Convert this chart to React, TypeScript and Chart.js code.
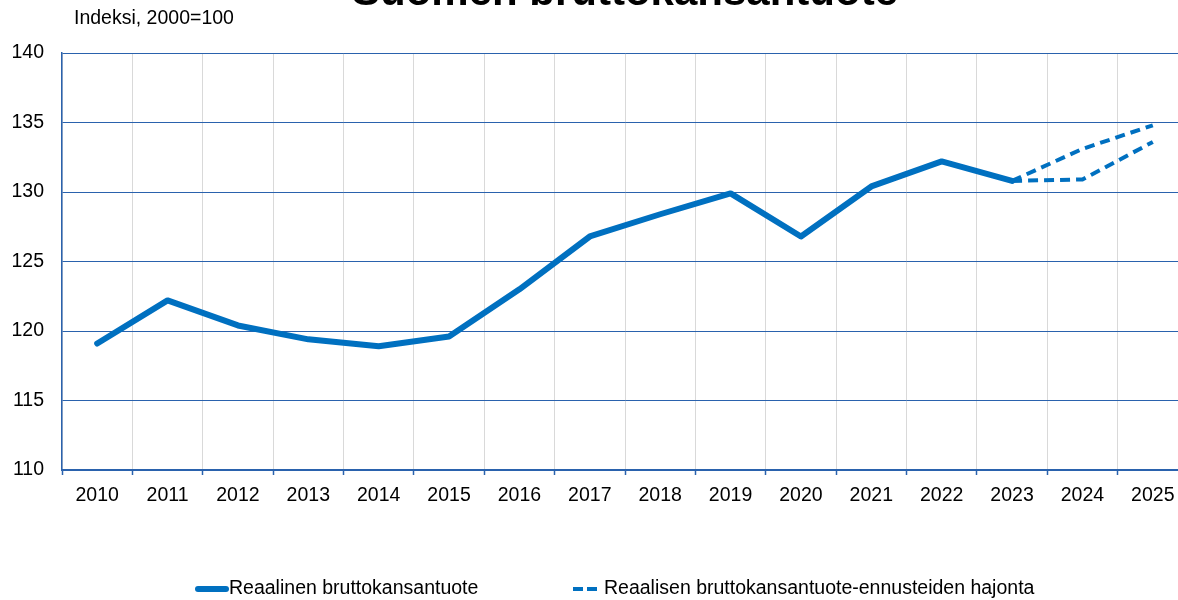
import React, { useEffect, useRef } from "react";
import { Chart, registerables } from "chart.js";

Chart.register(...registerables);

const years = ["2010", "2011", "2012", "2013", "2014", "2015", "2016", "2017", "2018", "2019", "2020", "2021", "2022", "2023", "2024", "2025"];
const realGdp = [119.1, 122.2, 120.4, 119.4, 118.9, 119.6, 123.0, 126.8, 128.4, 129.9, 126.8, 130.4, 132.2, 130.8, null, null];
const forecastHigh = [null, null, null, null, null, null, null, null, null, null, null, null, null, 130.8, 133.1, 134.8];
const forecastLow = [null, null, null, null, null, null, null, null, null, null, null, null, null, 130.8, 130.9, 133.6];
const yMin = 110;
const yMax = 140;
const yStep = 5;
const titleText = "Suomen bruttokansantuote";
const subtitleText = "Indeksi, 2000=100";
const legendLabels = ["Reaalinen bruttokansantuote", "Reaalisen bruttokansantuote-ennusteiden hajonta"];

const LINE = "#0070c0";
const GRID_BLUE = "#2a62ad";
const GRID_GRAY = "#d9d9d9";
const FONT = "'Liberation Sans', Arial, sans-serif";
const FS = 19.5;

const decorPlugin = {
  id: "decor",
  afterDraw(chart: any) {
    const ctx = chart.ctx;
    const area = chart.chartArea;
    ctx.save();
    // title (cut off at top)
    ctx.fillStyle = "#000";
    ctx.font = `bold 42px ${FONT}`;
    ctx.textAlign = "center";
    ctx.textBaseline = "alphabetic";
    ctx.fillText(titleText, (area.left + area.right) / 2, 5);
    // subtitle
    ctx.font = `${FS}px ${FONT}`;
    ctx.textAlign = "left";
    ctx.fillText(subtitleText, 74, 24);
    // legend
    const ly = 589;
    ctx.strokeStyle = LINE;
    ctx.lineWidth = 6;
    ctx.lineCap = "round";
    ctx.beginPath();
    ctx.moveTo(198, ly);
    ctx.lineTo(226, ly);
    ctx.stroke();
    ctx.lineCap = "butt";
    ctx.lineWidth = 4;
    ctx.setLineDash([10, 4]);
    ctx.beginPath();
    ctx.moveTo(573, ly);
    ctx.lineTo(597, ly);
    ctx.stroke();
    ctx.setLineDash([]);
    ctx.fillStyle = "#000";
    ctx.font = `${FS}px ${FONT}`;
    ctx.textBaseline = "middle";
    ctx.fillText(legendLabels[0], 229, ly);
    ctx.fillText(legendLabels[1], 604, ly);
    ctx.restore();
  },
};

export default function App() {
  const ref = useRef<HTMLCanvasElement | null>(null);

  useEffect(() => {
    if (!ref.current) return;
    const chart = new Chart(ref.current, {
      type: "line",
      data: {
        labels: years,
        datasets: [
          {
            label: legendLabels[0],
            data: realGdp,
            borderColor: LINE,
            borderWidth: 6,
            pointRadius: 0,
            borderJoinStyle: "round",
            borderCapStyle: "round",
            tension: 0,
            spanGaps: false,
          },
          {
            label: legendLabels[1],
            data: forecastHigh,
            borderColor: LINE,
            borderWidth: 4,
            borderDash: [10, 6],
            pointRadius: 0,
            tension: 0,
          },
          {
            label: legendLabels[1] + " (ala)",
            data: forecastLow,
            borderColor: LINE,
            borderWidth: 4,
            borderDash: [10, 6],
            pointRadius: 0,
            tension: 0,
          },
        ],
      },
      options: {
        responsive: false,
        animation: false,
        events: [],
        layout: { padding: { top: 53, left: 0, right: 12, bottom: 90 } },
        plugins: {
          legend: { display: false },
          title: { display: false },
          tooltip: { enabled: false },
        },
        scales: {
          x: {
            offset: true,
            grid: {
              offset: true,
              color: GRID_GRAY,
              lineWidth: 1,
              tickLength: 5,
              tickColor: GRID_BLUE,
              tickWidth: 1.5,
            },
            border: { color: GRID_BLUE, width: 1.5 },
            ticks: {
              color: "#000",
              font: { family: FONT, size: FS },
              padding: 9,
              maxRotation: 0,
              autoSkip: false,
            },
            afterFit: (scale: any) => {
              scale.height = 40;
            },
          },
          y: {
            min: yMin,
            max: yMax,
            grid: { color: GRID_BLUE, lineWidth: 1, drawTicks: false },
            border: { color: GRID_BLUE, width: 1.5 },
            ticks: {
              stepSize: yStep,
              color: "#000",
              font: { family: FONT, size: FS },
              padding: 18,
            },
            afterFit: (scale: any) => {
              scale.width = 62;
            },
          },
        },
      },
      plugins: [decorPlugin],
    });
    return () => chart.destroy();
  }, []);

  return (
    <div style={{ position: "fixed", left: 0, top: 0, width: 1178, height: 600, overflow: "hidden", background: "#fff" }}>
      <canvas ref={ref} width={1200} height={600} style={{ display: "block" }} />
    </div>
  );
}
